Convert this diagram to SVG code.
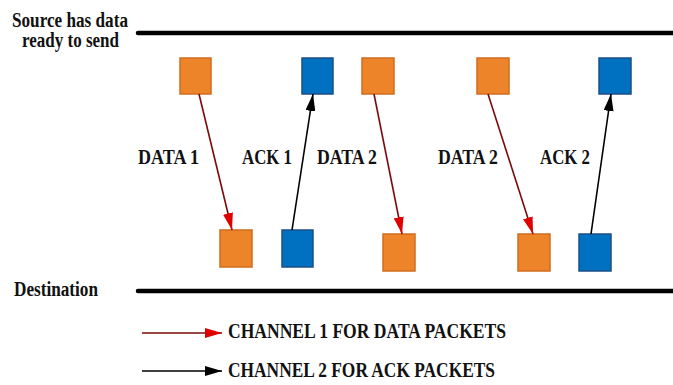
<svg xmlns="http://www.w3.org/2000/svg" width="673" height="385" viewBox="0 0 673 385">
<style>
text{font-family:"Liberation Serif","Times New Roman",serif;font-weight:bold;fill:#111;font-size:20px}
.lbl{font-size:21px}
.orange{fill:#EE8429;stroke:#CF6C1E;stroke-width:1.5}
.blue{fill:#0070C0;stroke:#1B4F86;stroke-width:1.5}
.rail{stroke:#000;stroke-width:4.5;stroke-linecap:round}
.data{stroke:#7A0A0A;stroke-width:1.6;fill:none}
.ack{stroke:#000;stroke-width:1.6;fill:none}
</style>
<defs>
<marker id="redHead" viewBox="0 0 17 10" refX="17" refY="5" markerUnits="userSpaceOnUse" markerWidth="17" markerHeight="10" orient="auto">
<path d="M0,0 L17,5 L0,10 Z" fill="#E00000"/>
</marker>
<marker id="blackHead" viewBox="0 0 17 10" refX="17" refY="5" markerUnits="userSpaceOnUse" markerWidth="17" markerHeight="10" orient="auto">
<path d="M0,0 L17,5 L0,10 Z" fill="#000"/>
</marker>
</defs>
<rect width="673" height="385" fill="#fff"/>

<g id="source">
<line class="rail" x1="138" y1="33" x2="673" y2="33"/>
<text x="12" y="27" textLength="116" lengthAdjust="spacingAndGlyphs">Source has data</text>
<text x="22" y="47" textLength="97" lengthAdjust="spacingAndGlyphs">ready to send</text>
</g>
<g id="destination">
<line class="rail" x1="138" y1="291" x2="673" y2="291"/>
<text x="14" y="296" textLength="84" lengthAdjust="spacingAndGlyphs">Destination</text>
</g>

<g id="src-data1"><rect class="orange" x="180" y="58" width="31" height="36"/></g>
<g id="src-ack1"><rect class="blue" x="302" y="58" width="31" height="36"/></g>
<g id="src-data2a"><rect class="orange" x="362" y="58" width="32" height="36"/></g>
<g id="src-data2b"><rect class="orange" x="477" y="58" width="32" height="36"/></g>
<g id="src-ack2"><rect class="blue" x="599" y="58" width="32" height="36"/></g>

<g id="dst-data1"><rect class="orange" x="220" y="230" width="32" height="37"/></g>
<g id="dst-ack1"><rect class="blue" x="282" y="230" width="31" height="37"/></g>
<g id="dst-data2a"><rect class="orange" x="383" y="234" width="32" height="37"/></g>
<g id="dst-data2b"><rect class="orange" x="518" y="234" width="32" height="37"/></g>
<g id="dst-ack2"><rect class="blue" x="579" y="234" width="32" height="37"/></g>

<g id="connectors">
<line class="data" x1="199" y1="94" x2="232" y2="230" marker-end="url(#redHead)"/>
<line class="ack" x1="292" y1="230" x2="313" y2="94" marker-end="url(#blackHead)"/>
<line class="data" x1="374" y1="94" x2="402" y2="234" marker-end="url(#redHead)"/>
<line class="data" x1="488" y1="94" x2="533" y2="234" marker-end="url(#redHead)"/>
<line class="ack" x1="591" y1="234" x2="611" y2="94" marker-end="url(#blackHead)"/>
</g>

<g id="labels">
<text class="lbl" x="138" y="164" textLength="61" lengthAdjust="spacingAndGlyphs">DATA 1</text>
<text class="lbl" x="242" y="164" textLength="50" lengthAdjust="spacingAndGlyphs">ACK 1</text>
<text class="lbl" x="317" y="164" textLength="60" lengthAdjust="spacingAndGlyphs">DATA 2</text>
<text class="lbl" x="438" y="164" textLength="60" lengthAdjust="spacingAndGlyphs">DATA 2</text>
<text class="lbl" x="540" y="164" textLength="50" lengthAdjust="spacingAndGlyphs">ACK 2</text>
</g>

<g id="legend">
<line class="data" x1="142" y1="333" x2="222" y2="333" marker-end="url(#redHead)"/>
<text x="228" y="338" textLength="278" lengthAdjust="spacingAndGlyphs">CHANNEL 1 FOR DATA PACKETS</text>
<line class="ack" x1="142" y1="371" x2="222" y2="371" marker-end="url(#blackHead)"/>
<text x="228" y="377" textLength="267" lengthAdjust="spacingAndGlyphs">CHANNEL 2 FOR ACK PACKETS</text>
</g>
</svg>
